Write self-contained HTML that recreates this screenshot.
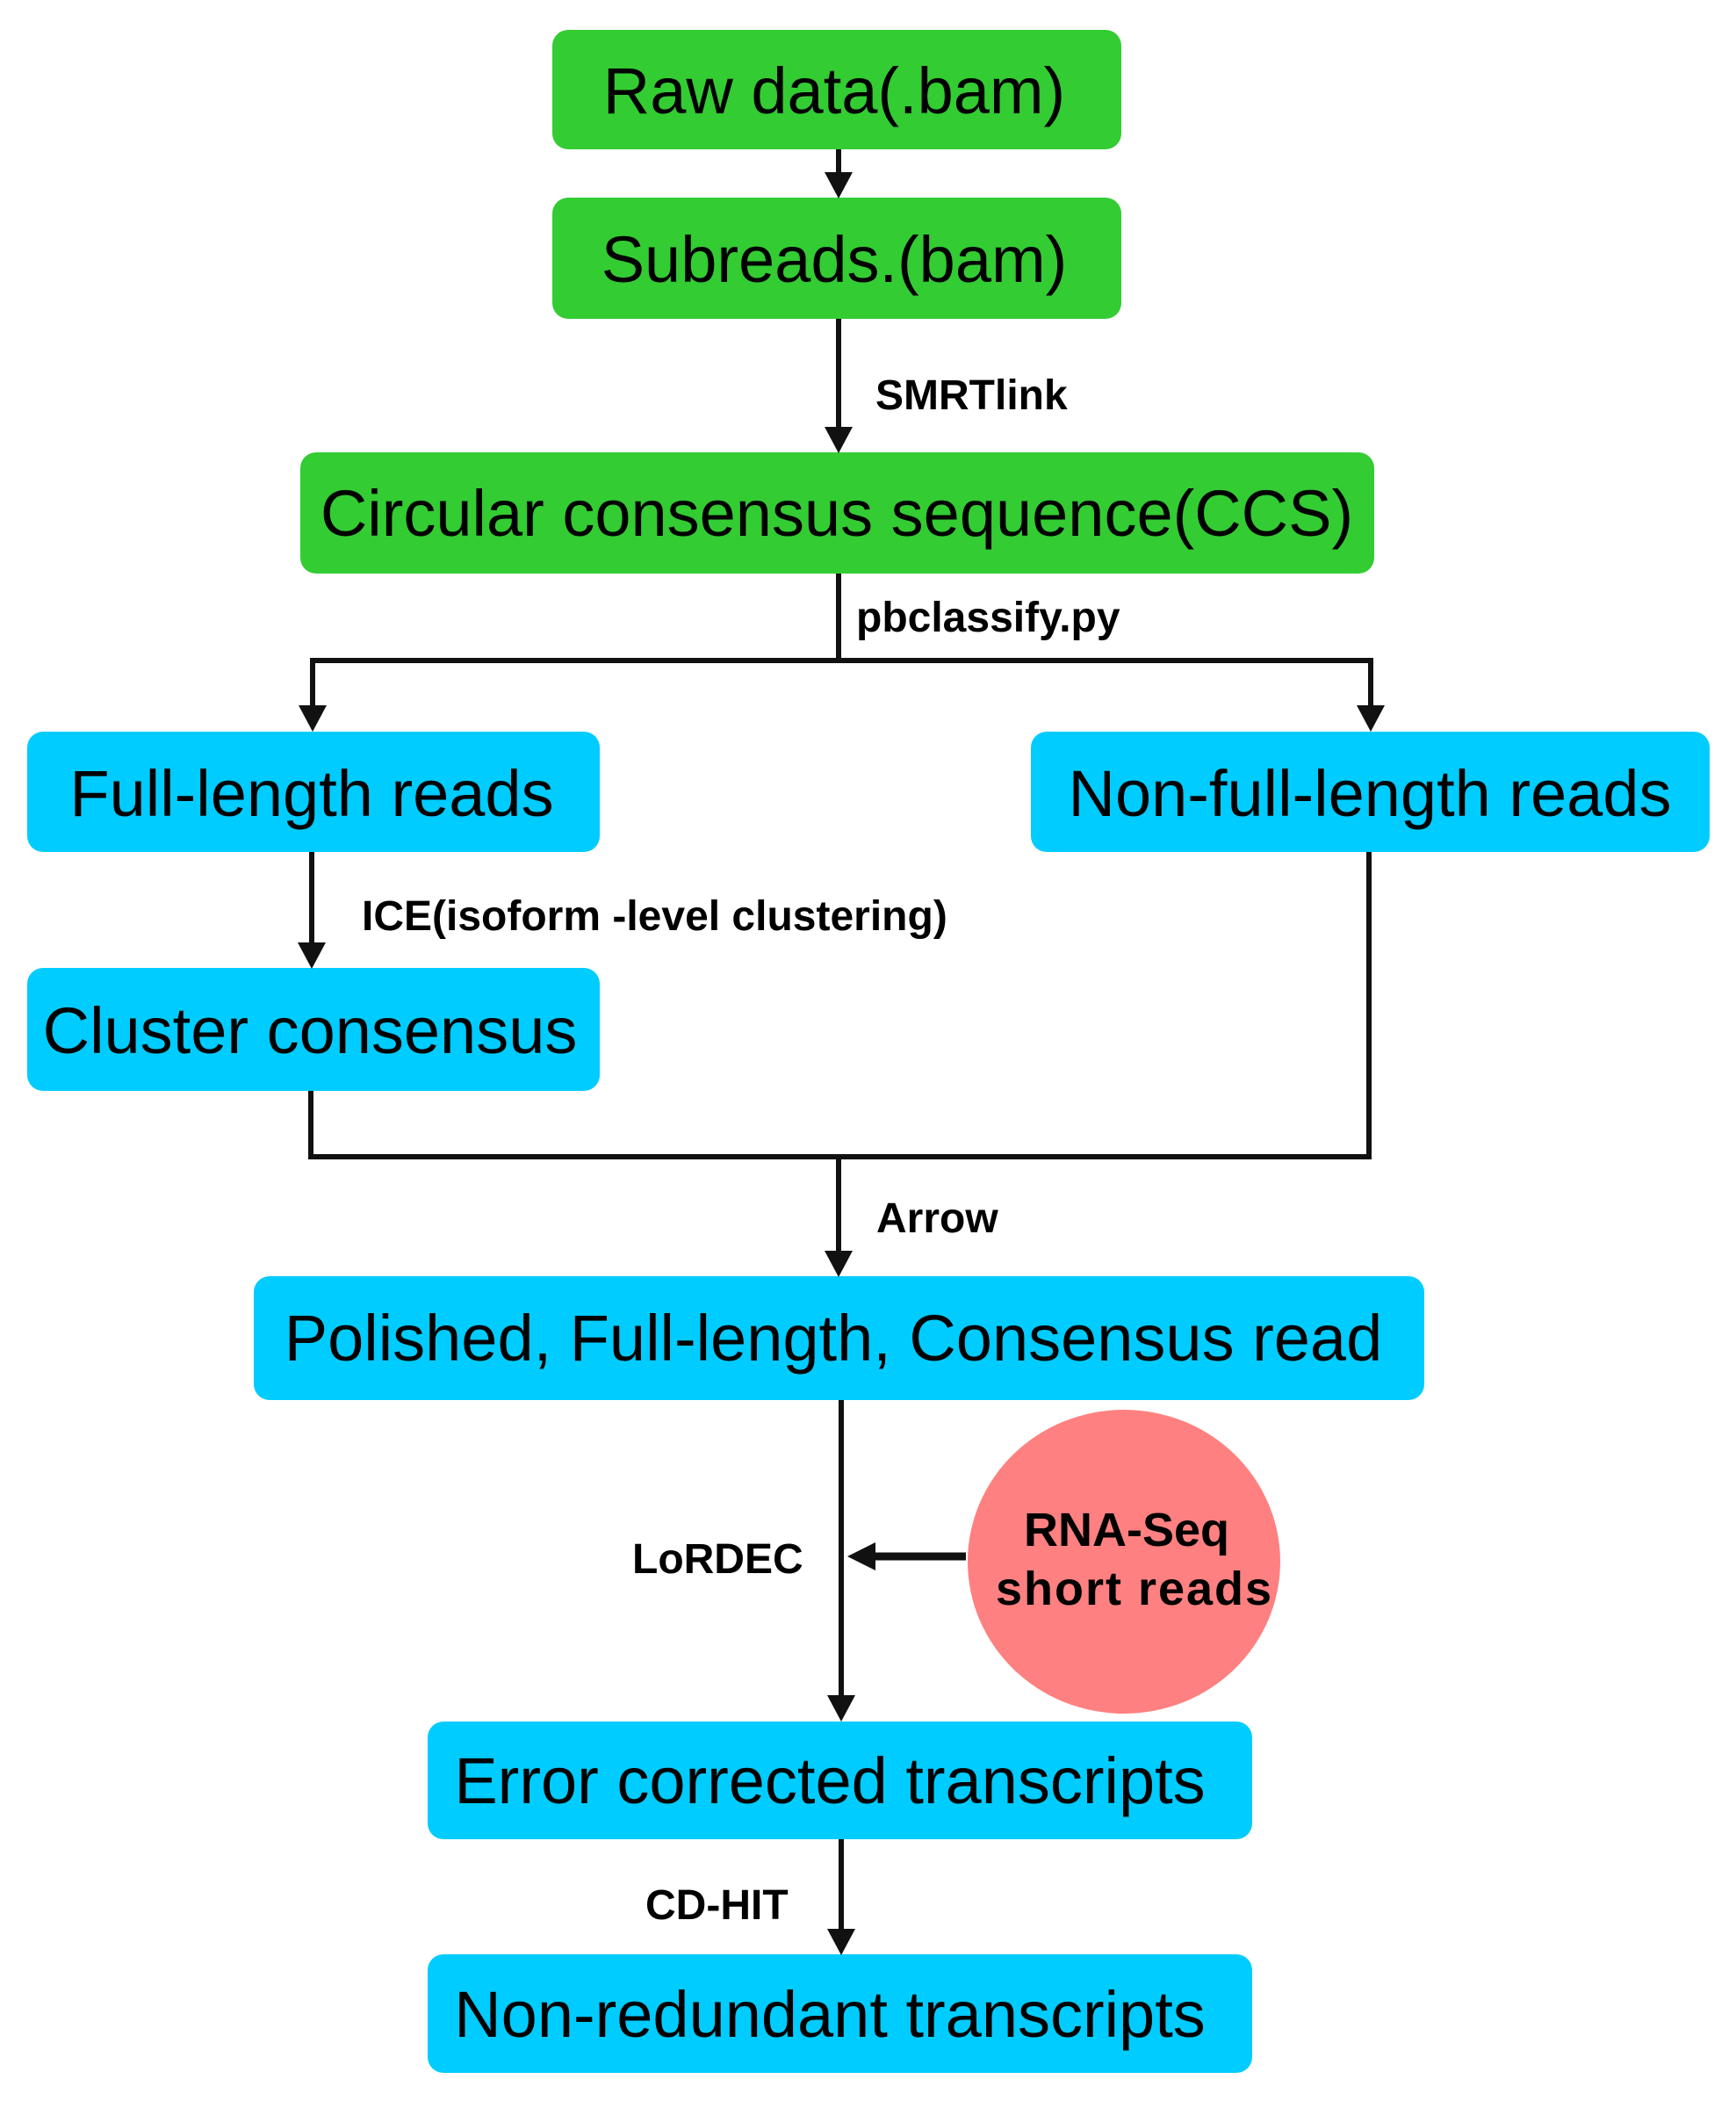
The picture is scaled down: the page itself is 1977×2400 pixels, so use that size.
<!DOCTYPE html>
<html><head><meta charset="utf-8"><style>
html,body{margin:0;padding:0;background:#fff;}
svg{display:block;}
text{font-family:"Liberation Sans",Arial,sans-serif;fill:#000;}
.b{font-size:74px;text-anchor:middle;}
.l{font-size:48px;font-weight:bold;}
</style></head><body>
<svg width="1977" height="2400" viewBox="0 0 1977 2400" xmlns="http://www.w3.org/2000/svg">
<g fill="#33cc33">
<rect x="629" y="34" width="648" height="136" rx="18"/>
<rect x="629" y="225" width="648" height="138" rx="18"/>
<rect x="342" y="515" width="1223" height="138" rx="18"/>
</g>
<g fill="#00ccff">
<rect x="31" y="833" width="652" height="137" rx="18"/>
<rect x="1174" y="833" width="773" height="137" rx="18"/>
<rect x="31" y="1102" width="652" height="140" rx="18"/>
<rect x="289" y="1453" width="1333" height="141" rx="18"/>
<rect x="487" y="1960" width="939" height="134" rx="18"/>
<rect x="487" y="2225" width="939" height="135" rx="18"/>
</g>
<ellipse cx="1280" cy="1778" rx="178" ry="173" fill="#ff8080"/>
<g stroke="#111" stroke-width="6" fill="none">
<line x1="955" y1="170" x2="955" y2="198"/>
<line x1="955" y1="363" x2="955" y2="488"/>
<polyline points="356,805 356,752 1561,752 1561,805"/>
<line x1="955" y1="653" x2="955" y2="752"/>
<line x1="355" y1="970" x2="355" y2="1075"/>
<polyline points="354,1242 354,1317 1559,1317 1559,970"/>
<line x1="955" y1="1317" x2="955" y2="1426"/>
<line x1="958" y1="1594" x2="958" y2="1932"/>
<line x1="958" y1="2094" x2="958" y2="2198"/>
<line x1="1100" y1="1772" x2="995" y2="1772" stroke-width="9"/>
</g>
<g fill="#111">
<polygon points="939,196 971,196 955,226"/>
<polygon points="939,486 971,486 955,516"/>
<polygon points="340,803 372,803 356,833"/>
<polygon points="1545,803 1577,803 1561,833"/>
<polygon points="339,1073 371,1073 355,1103"/>
<polygon points="939,1424 971,1424 955,1454"/>
<polygon points="942,1930 974,1930 958,1960"/>
<polygon points="942,2196 974,2196 958,2226"/>
<polygon points="997,1756 997,1788 965,1772"/>
</g>
<text class="b" x="950" y="129">Raw data(.bam)</text>
<text class="b" x="950" y="321">Subreads.(bam)</text>
<text class="b" x="953" y="610">Circular consensus sequence(CCS)</text>
<text class="b" x="355" y="929">Full-length reads</text>
<text class="b" x="1560" y="929">Non-full-length reads</text>
<text class="b" x="353" y="1199">Cluster consensus</text>
<text class="b" x="949" y="1549">Polished, Full-length, Consensus read</text>
<text class="b" x="945" y="2053">Error corrected transcripts</text>
<text class="b" x="945" y="2319">Non-redundant transcripts</text>
<text class="l" x="997" y="466">SMRTlink</text>
<text class="l" x="975" y="719">pbclassify.py</text>
<text class="l" x="412" y="1059">ICE(isoform -level clustering)</text>
<text class="l" x="998" y="1403">Arrow</text>
<text class="l" x="720" y="1791">LoRDEC</text>
<text class="l" x="735" y="2185">CD-HIT</text>
<text style="font-size:54px;font-weight:bold;text-anchor:middle" x="1283" y="1760">RNA-Seq</text>
<text style="font-size:54px;font-weight:bold;text-anchor:middle;letter-spacing:2px" x="1292" y="1827">short reads</text>
</svg>
</body></html>
